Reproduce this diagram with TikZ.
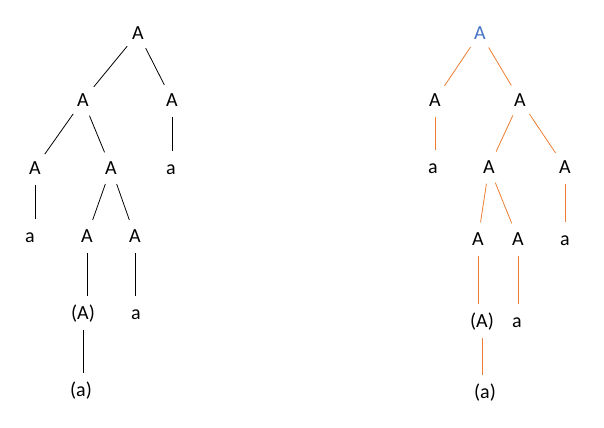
\documentclass[tikz,border=0pt]{standalone}
\usepackage{fontspec}
\setmainfont{Carlito}
\definecolor{edgeorange}{RGB}{237,125,49}
\definecolor{rootblue}{RGB}{68,114,196}

\begin{document}
\begin{tikzpicture}[x=0.75pt,y=-0.75pt]
        \useasboundingbox (0,0) rectangle (604,428);
        \begin{scope}[every node/.style={circle,inner sep=0pt,minimum size=25pt,
            font=\fontsize{15}{17}\selectfont,text height=9.5pt,text depth=0pt}]
          % left tree
          \node (L) at (138,33) {A};
          \node (L1) at (83,100) {A};
          \node (L2) at (172,100) {A};
          \node (L11) at (35,168) {A};
          \node (L12) at (111,168) {A};
          \node (L21) at (171,168) {a};
          \node (L111) at (30,236) {a};
          \node (L121) at (87,236) {A};
          \node (L122) at (135,236) {A};
          \node (L1211) at (83,313) {(A)};
          \node (L1221) at (136,313) {a};
          \node (L12111) at (81,390) {(a)};
          % right tree
          \node[text=rootblue] (R) at (480,33) {A};
          \node (R1) at (435,100) {A};
          \node (R2) at (520,100) {A};
          \node (R11) at (433,167) {a};
          \node (R21) at (489,167) {A};
          \node (R22) at (565,167) {A};
          \node (R211) at (478,239) {A};
          \node (R212) at (518,239) {A};
          \node (R221) at (565,239) {a};
          \node (R2111) at (482,321) {(A)};
          \node (R2121) at (517,321) {a};
          \node (R21111) at (485,392) {(a)};
        \end{scope}
        \begin{scope}[every edge/.style={draw=black,line width=0.6pt}]
          \path (L) edge (L1);
          \path (L) edge (L2);
          \path (L1) edge (L11);
          \path (L1) edge (L12);
          \path (L2) edge (L2 |- L21.north);
          \path (L11) edge (L11 |- L111.north);
          \path (L12) edge (L121);
          \path (L12) edge (L122);
          \path (L121) edge (L121 |- L1211.north);
          \path (L122) edge (L122 |- L1221.north);
          \path (L1211) edge (L1211 |- L12111.north);
        \end{scope}
        \begin{scope}[every edge/.style={draw=edgeorange,line width=0.6pt}]
          \path (R) edge (R1);
          \path (R) edge (R2);
          \path (R1) edge (R1 |- R11.north);
          \path (R2) edge (R21);
          \path (R2) edge (R22);
          \path (R21) edge (R211);
          \path (R21) edge (R212);
          \path (R22) edge (R22 |- R221.north);
          \path (R211) edge (R211 |- R2111.north);
          \path (R212) edge (R212 |- R2121.north);
          \path (R2111) edge (R2111 |- R21111.north);
        \end{scope}
      \end{tikzpicture}
\end{document}
